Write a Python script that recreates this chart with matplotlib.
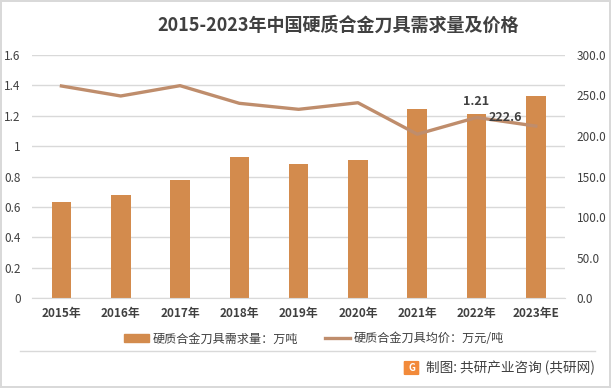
import matplotlib.pyplot as plt
import matplotlib.patches as mpatches
from matplotlib.lines import Line2D
import numpy as np

plt.rcParams['font.family'] = ['Noto Sans CJK SC', 'DejaVu Sans']

# data
years = ['2015年', '2016年', '2017年', '2018年', '2019年', '2020年', '2021年', '2022年', '2023年E']
demand = [0.63, 0.68, 0.78, 0.93, 0.88, 0.91, 1.24, 1.21, 1.33]      # 万吨
price = [261.3, 249.0, 261.7, 240.0, 232.6, 240.7, 202.0, 222.6, 212.0]  # 万元/吨

bar_color = '#D38B4D'
line_color = '#BF8D6C'
text_color = '#404040'

fig = plt.figure(figsize=(6.11, 3.88), dpi=100)
fig.patch.set_edgecolor('#D9D9D9')
fig.patch.set_linewidth(1.5)

ax = fig.add_axes([0.052, 0.2307, 0.8735, 0.6288])
ax2 = ax.twinx()

x = np.arange(len(years))
ax.bar(x, demand, width=0.33, color=bar_color, zorder=2)
ax2.plot(x, price, color=line_color, lw=2.4, zorder=3)

ax.set_xlim(-0.5, len(years) - 0.5)
ax.set_ylim(0, 1.6)
ax2.set_ylim(0, 300)
ax.set_yticks(np.arange(0, 1.61, 0.2))
ax.set_yticklabels(['0', '0.2', '0.4', '0.6', '0.8', '1', '1.2', '1.4', '1.6'])
ax2.set_yticks(np.arange(0, 301, 50))
ax2.set_yticklabels(['%.1f' % v for v in np.arange(0, 301, 50)])
ax.set_xticks(x)
ax.set_xticklabels(years)

ax.grid(axis='y', color='#D9D9D9', lw=1, zorder=0)
ax.set_axisbelow(True)
for a in (ax, ax2):
    for s in a.spines.values():
        s.set_visible(False)
ax.spines['bottom'].set_visible(True)
ax.spines['bottom'].set_color('#D9D9D9')
ax.tick_params(axis='both', length=0, labelsize=8.5, colors=text_color)
ax.tick_params(axis='y', pad=8)
ax.tick_params(axis='x', pad=6)
ax2.tick_params(axis='y', length=0, labelsize=8.5, colors=text_color, pad=8)
for lab in ax.get_xticklabels():
    lab.set_fontweight('bold')

# labels on 2022
ax.text(x[7], demand[7] + 0.04, '%.2f' % demand[7], ha='center', va='bottom',
        fontsize=9, color=text_color, fontweight='bold')
ax2.text(x[7] + 0.2, price[7], '%.1f' % price[7], ha='left', va='center',
         fontsize=9, color=text_color, fontweight='bold')

fig.text(338 / 611, 1 - 25 / 388, '2015-2023年中国硬质合金刀具需求量及价格', ha='center', va='center',
         fontsize=13, fontweight='bold', color=text_color)

handles = [mpatches.Patch(color=bar_color),
           Line2D([0], [0], color=line_color, lw=2.4)]
fig.legend(handles, ['硬质合金刀具需求量：万吨', '硬质合金刀具均价：万元/吨'],
           ncol=2, loc='center', bbox_to_anchor=(314 / 611, 1 - 339 / 388), frameon=False,
           fontsize=8.7, handlelength=2.1, handleheight=0.6, handletextpad=0.3,
           columnspacing=2.2, labelcolor=text_color)

fig.add_artist(Line2D([20 / 611, 595 / 611], [1 - 351 / 388] * 2, color='#D9D9D9', lw=1))

# footer with small logo
fig.add_artist(mpatches.FancyBboxPatch((405 / 611, 1 - 374 / 388), 13 / 611, 12 / 388,
               boxstyle='round,pad=0.001', color='#F28A3A', transform=fig.transFigure))
fig.text(411.5 / 611, 1 - 368 / 388, 'G', ha='center', va='center', fontsize=7,
         color='white', fontweight='bold')
fig.text(595 / 611, 1 - 368 / 388, '制图: 共研产业咨询 (共研网)', ha='right', va='center',
         fontsize=9.8, color=text_color)

fig.savefig('out.png', dpi=100)
